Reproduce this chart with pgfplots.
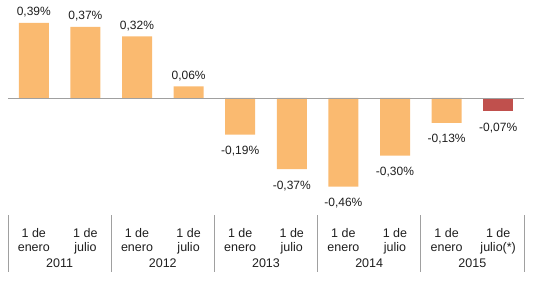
\documentclass[border=0pt]{standalone}
\usepackage{pgfplots}
\pgfplotsset{compat=1.18}
\usepackage{fontspec}
\setmainfont{Liberation Sans}
\definecolor{barorange}{RGB}{250,186,112}
\definecolor{barred}{RGB}{192,80,77}
\definecolor{txt}{RGB}{30,30,30}
\definecolor{linegray}{RGB}{160,160,160}
\begin{document}
\begin{tikzpicture}
\begin{axis}[
  scale only axis,
  width=516pt, height=272pt,
  xmin=-0.5, xmax=9.5,
  ymin=-0.904, ymax=0.509,
  axis line style={draw=none},
  tick style={draw=none},
  ytick=\empty,
  xtick={0,...,9},
  xticklabels={{1 de\\enero},{1 de\\julio},{1 de\\enero},{1 de\\julio},{1 de\\enero},{1 de\\julio},{1 de\\enero},{1 de\\julio},{1 de\\enero},{1 de\\julio(*)}},
  xticklabel style={align=center, font=\fontsize{12.5}{14}\selectfont, text=txt, yshift=51.5pt},
  clip=false,
  ybar, bar width=30pt,
  point meta=explicit symbolic,
  nodes near coords,
  nodes near coords style={font=\fontsize{12}{13}\selectfont, text=txt},
]
\addplot[fill=barorange, draw=none, bar shift=0pt,
  nodes near coords style={anchor=south, yshift=2pt}]
  coordinates {(0,0.39) [0,39\%] (1,0.37) [0,37\%] (2,0.32) [0,32\%] (3,0.06) [0,06\%]};
\addplot[fill=barorange, draw=none, bar shift=0pt,
  nodes near coords style={anchor=north, yshift=-8pt}]
  coordinates {(4,-0.19) [-0,19\%] (5,-0.37) [-0,37\%] (6,-0.46) [-0,46\%] (7,-0.30) [-0,30\%] (8,-0.13) [-0,13\%]};
\addplot[fill=barred, draw=none, bar shift=0pt,
  nodes near coords style={anchor=north, yshift=-8pt}]
  coordinates {(9,-0.07) [-0,07\%]};
\draw[linegray, line width=0.8pt] (axis cs:-0.5,0) -- (axis cs:9.5,0);
\draw[linegray, line width=0.8pt] (axis cs:-0.5,-0.608) -- (axis cs:-0.5,-0.904);
\draw[linegray, line width=0.8pt] (axis cs:1.5,-0.608) -- (axis cs:1.5,-0.904);
\draw[linegray, line width=0.8pt] (axis cs:3.5,-0.608) -- (axis cs:3.5,-0.904);
\draw[linegray, line width=0.8pt] (axis cs:5.5,-0.608) -- (axis cs:5.5,-0.904);
\draw[linegray, line width=0.8pt] (axis cs:7.5,-0.608) -- (axis cs:7.5,-0.904);
\draw[linegray, line width=0.8pt] (axis cs:9.5,-0.608) -- (axis cs:9.5,-0.904);
\node[anchor=base, font=\fontsize{12.5}{13}\selectfont, text=txt] at (axis cs:0.5,-0.883) {2011};
\node[anchor=base, font=\fontsize{12.5}{13}\selectfont, text=txt] at (axis cs:2.5,-0.883) {2012};
\node[anchor=base, font=\fontsize{12.5}{13}\selectfont, text=txt] at (axis cs:4.5,-0.883) {2013};
\node[anchor=base, font=\fontsize{12.5}{13}\selectfont, text=txt] at (axis cs:6.5,-0.883) {2014};
\node[anchor=base, font=\fontsize{12.5}{13}\selectfont, text=txt] at (axis cs:8.5,-0.883) {2015};
\coordinate (bl) at (rel axis cs:0,0);
\coordinate (tr) at (rel axis cs:1,1);
\end{axis}
\pgfresetboundingbox
\useasboundingbox ([shift={(-8pt,-9pt)}]bl) rectangle ([shift={(9pt,0pt)}]tr);
\end{tikzpicture}
\end{document}
